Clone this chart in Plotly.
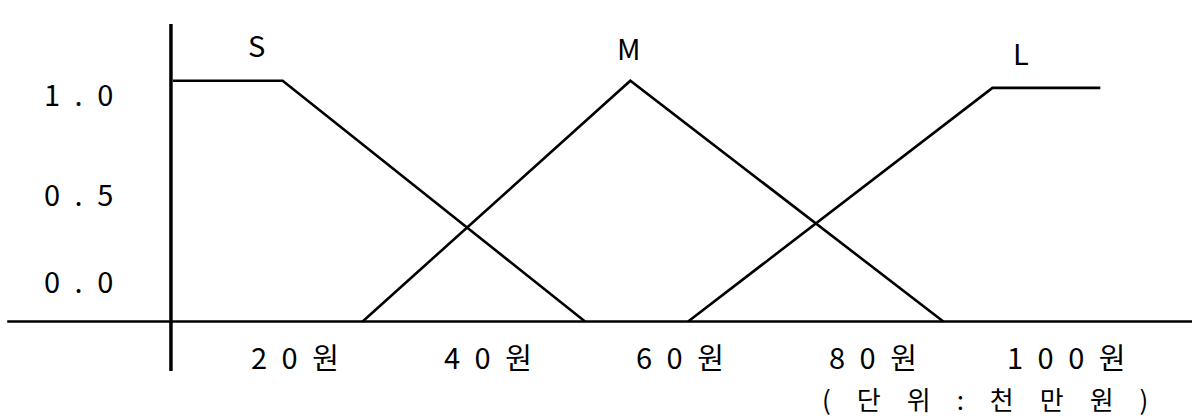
import plotly.graph_objects as go

# Membership functions (x in units, y = membership degree)
s_x = [7.3, 18.7, 50.1]
s_y = [1.0, 1.0, 0.0]
m_x = [27.0, 54.8, 87.3]
m_y = [0.0, 1.0, 0.0]
l_x = [60.8, 92.4, 103.6]
l_y = [0.0, 0.97, 0.97]

set_names = ["S", "M", "L"]
set_label_x = [16.0, 54.7, 95.4]
set_label_y = [1.152, 1.140, 1.119]

x_tick_vals = [20, 40, 60, 80, 100]
x_tick_text = ["2\u20020\u2002원", "4\u20020\u2002원", "6\u20020\u2002원", "8\u20020\u2002원", "1\u20020\u20020\u2002원"]
y_tick_pos = [0.949, 0.534, 0.172]
y_tick_text = ["1\u2002.\u20020", "0\u2002.\u20025", "0\u2002.\u20020"]
unit_text = "(\u2003단\u2003위\u2003:\u2003천\u2003만\u2003원\u2003)"

FONT = "Noto Sans CJK KR"
fig = go.Figure()
for xs, ys in [(s_x, s_y), (m_x, m_y), (l_x, l_y)]:
    fig.add_trace(go.Scatter(x=xs, y=ys, mode="lines",
                             line=dict(color="black", width=2.6),
                             hoverinfo="skip", showlegend=False))

# axes drawn as lines
fig.add_shape(type="line", x0=7.1, x1=7.1, y0=-0.206, y1=1.235,
              line=dict(color="black", width=3.5), xref="x", yref="y")
fig.add_shape(type="line", x0=-9.9, x1=113.2, y0=0, y1=0,
              line=dict(color="black", width=2.5), xref="x", yref="y")

ann = []
for n, ax, ay in zip(set_names, set_label_x, set_label_y):
    ann.append(dict(x=ax, y=ay, text=n, showarrow=False, xref="x", yref="y",
                    font=dict(family=FONT, size=29, color="black")))
for v, t in zip(x_tick_vals, x_tick_text):
    ann.append(dict(x=v, y=-0.143, text=t, showarrow=False, xref="x", yref="y",
                    font=dict(family=FONT, size=29, color="black")))
for p, t in zip(y_tick_pos, y_tick_text):
    ann.append(dict(x=-2.55, y=p, text=t, showarrow=False, xref="x", yref="y",
                    font=dict(family=FONT, size=29, color="black")))
ann.append(dict(x=91.6, y=-0.318, text=unit_text, showarrow=False, xref="x", yref="y",
                font=dict(family=FONT, size=26, color="black")))

fig.update_layout(
    width=1192, height=420,
    margin=dict(l=0, r=0, t=0, b=0),
    paper_bgcolor="white", plot_bgcolor="white",
    xaxis=dict(range=[-10.65, 113.12], visible=False, fixedrange=True),
    yaxis=dict(range=[-0.409, 1.335], visible=False, fixedrange=True),
    annotations=ann,
)
fig.write_html("out.html", config={"displayModeBar": False},
               post_script="document.body.style.margin='0';document.body.style.overflow='hidden';")
